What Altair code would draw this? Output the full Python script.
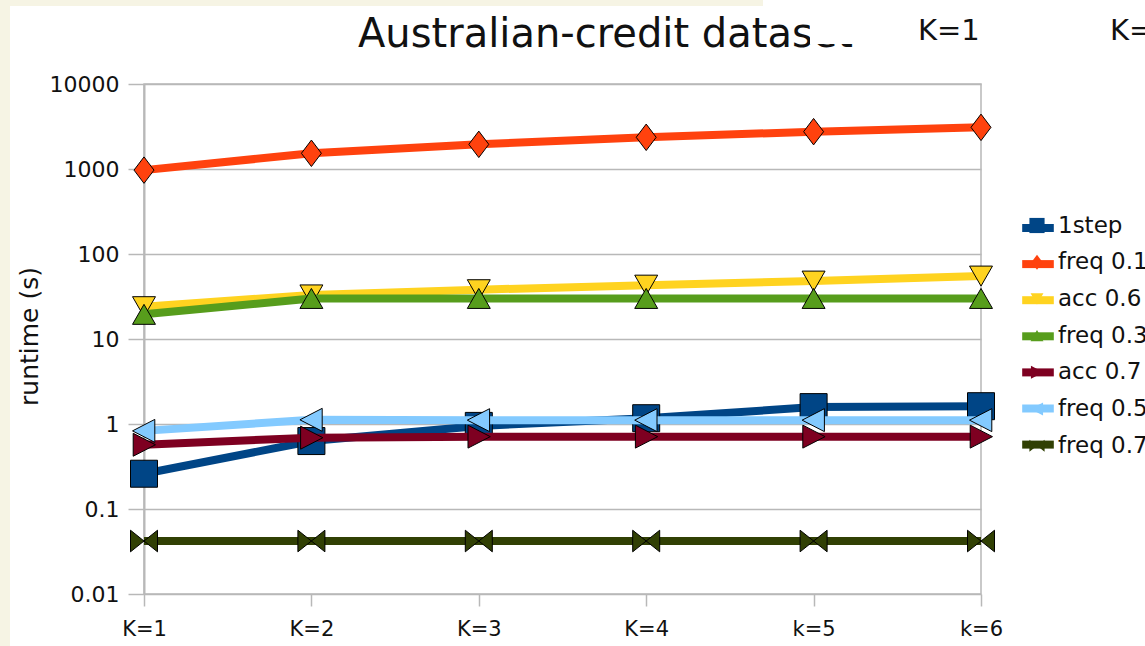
import altair as alt
import pandas as pd

# ---------------- data ----------------
k_labels = ["K=1", "K=2", "K=3", "K=4", "k=5", "k=6"]
series_names = ["1step", "freq 0.1", "acc 0.6", "freq 0.3", "acc 0.7", "freq 0.5", "freq 0.7"]

step1 = [0.26, 0.63, 0.95, 1.17, 1.58, 1.62]
freq01 = [970, 1530, 1950, 2360, 2750, 3090]
acc06 = [24, 33, 38, 43, 48, 55]
freq03 = [19.5, 30, 30, 30, 30, 30]
acc07 = [0.57, 0.69, 0.71, 0.71, 0.71, 0.71]
freq05 = [0.83, 1.12, 1.11, 1.11, 1.11, 1.11]
freq07 = [0.042, 0.042, 0.042, 0.042, 0.042, 0.042]

y_ticks = [0.01, 0.1, 1, 10, 100, 1000, 10000]
title_text = "Australian-credit dataset"

# ---------------- styles ----------------
colors = ["#004586", "#FF420E", "#FFD320", "#579D1C", "#7E0021", "#83CAFF", "#314004"]
shapes = [
    "M-1,-1L1,-1L1,1L-1,1Z",                 # square
    "M0,-0.98L0.74,0L0,0.98L-0.74,0Z",       # diamond
    "M-0.85,-0.74L0.85,-0.74L0,0.74Z",       # triangle down
    "M-0.85,0.74L0.85,0.74L0,-0.74Z",        # triangle up
    "M-0.8,-0.85L0.85,0L-0.8,0.85Z",         # triangle right
    "M0.8,-0.85L-0.85,0L0.8,0.85Z",          # triangle left
    "M-1,-0.8L1,0.8L1,-0.8L-1,0.8Z",         # bowtie
]
FONT = "DejaVu Sans"
CREAM = "#F6F4E4"
GRID = "#b8b8b8"

values = [step1, freq01, acc06, freq03, acc07, freq05, freq07]
rows = []
for name, vals in zip(series_names, values):
    for k, v in zip(k_labels, vals):
        rows.append({"series": name, "K": k, "runtime": v})
df = pd.DataFrame(rows)

W, H = 837, 510
PAD_L, PAD_T = 144, 84

x_enc = alt.X(
    "K:O",
    sort=k_labels,
    scale=alt.Scale(type="point", padding=0, domain=k_labels),
    axis=alt.Axis(
        title=None, labelAngle=0, labelFont=FONT, labelFontSize=21, labelColor="#111111",
        tickSize=12, tickColor=GRID, tickWidth=1.5, labelPadding=12, domain=False, grid=False,
    ),
)
y_enc = alt.Y(
    "runtime:Q",
    scale=alt.Scale(type="log", domain=[0.01, 10000]),
    axis=alt.Axis(
        values=y_ticks, format="~g", title="runtime (s)",
        labelFont=FONT, labelFontSize=22, labelColor="#111111", labelPadding=9,
        tickSize=16, tickColor=GRID, tickWidth=1.5,
        grid=True, gridColor=GRID, gridWidth=1.5,
        domainColor=GRID, domainWidth=2,
        titleFont=FONT, titleFontSize=25, titleFontWeight="normal", titleColor="#111111",
        titleX=-115, titleY=252, titleAngle=270, titleAlign="center", titleBaseline="middle",
    ),
)

stroke_legend = alt.Legend(
    orient="none", legendX=874, legendY=124, title=None, padding=0,
    symbolType="stroke", symbolSize=1000, symbolStrokeWidth=8,
    labelFont=FONT, labelFontSize=23, labelColor="transparent",
    rowPadding=0.1, values=series_names,
)
shape_legend = alt.Legend(
    orient="none", legendX=881.5, legendY=130, title=None, padding=0,
    symbolSize=230, symbolStrokeColor="black", symbolStrokeWidth=1,
    labelFont=FONT, labelFontSize=23, labelColor="#111111", labelOffset=9.5,
    rowPadding=12.7,
)

stroke_scale = alt.Scale(domain=series_names + ["_"], range=colors + ["#ffffff"])
fill_scale = alt.Scale(domain=series_names, range=colors)
shape_scale = alt.Scale(domain=series_names, range=shapes)

one = pd.DataFrame({"t": [title_text]})
bg_left = alt.Chart(one).mark_rect(color=CREAM).encode(
    x=alt.value(-PAD_L), x2=alt.value(-PAD_L + 10), y=alt.value(-PAD_T), y2=alt.value(646 - PAD_T))
bg_top = alt.Chart(one).mark_rect(color=CREAM).encode(
    x=alt.value(-PAD_L), x2=alt.value(763 - PAD_L), y=alt.value(-PAD_T), y2=alt.value(6 - PAD_T))

title = alt.Chart(one).mark_text(
    font=FONT, fontSize=40, align="left", baseline="alphabetic", color="#111111"
).encode(text="t:N", x=alt.value(358 - PAD_L), y=alt.value(47 - PAD_T))
cover = alt.Chart(one).mark_rect(color="white").encode(
    x=alt.value(810 - PAD_L), x2=alt.value(1145 - PAD_L), y=alt.value(-PAD_T), y2=alt.value(44 - PAD_T))
k1 = alt.Chart(pd.DataFrame({"t": ["K=1"]})).mark_text(
    font=FONT, fontSize=29, align="left", baseline="alphabetic", color="#111111"
).encode(text="t:N", x=alt.value(918 - PAD_L), y=alt.value(40 - PAD_T))
k2 = alt.Chart(pd.DataFrame({"t": ["K="]})).mark_text(
    font=FONT, fontSize=29, align="left", baseline="alphabetic", color="#111111"
).encode(text="t:N", x=alt.value(1110 - PAD_L), y=alt.value(40 - PAD_T))

layers = [bg_left, bg_top, title, cover, k1, k2]
base = alt.Chart(df)
for name in series_names:
    sub = base.transform_filter(alt.datum.series == name)
    line = sub.mark_line(strokeWidth=8, strokeCap="butt").encode(
        x=x_enc, y=y_enc,
        stroke=alt.Stroke("series:N", scale=stroke_scale, legend=stroke_legend),
    )
    pts = sub.mark_point(filled=True, size=729, stroke="black", strokeWidth=1, opacity=1).encode(
        x=x_enc, y=y_enc,
        fill=alt.Fill("series:N", scale=fill_scale, legend=shape_legend),
        shape=alt.Shape("series:N", scale=shape_scale, legend=shape_legend),
    )
    layers += [line, pts]

chart = alt.layer(*layers).properties(
    width=W, height=H,
    autosize=alt.AutoSizeParams(type="none"),
    padding={"left": PAD_L, "top": PAD_T, "right": 1145 - PAD_L - W, "bottom": 646 - PAD_T - H},
    background="white",
).configure_view(stroke=GRID, strokeWidth=1.5)

chart.save("out.html", embed_options={"renderer": "svg", "actions": False})
